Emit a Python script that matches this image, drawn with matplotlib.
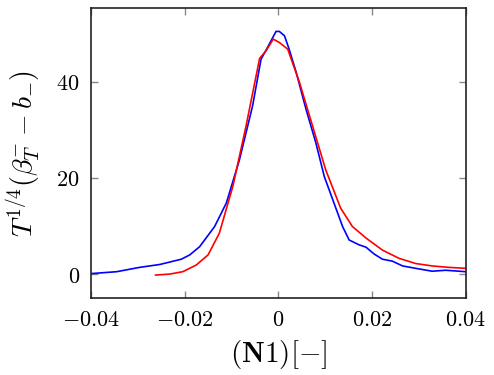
import numpy as np
import matplotlib
matplotlib.use("Agg")
import matplotlib.pyplot as plt

plt.rcParams['mathtext.fontset'] = 'cm'
plt.rcParams['font.family'] = 'DejaVu Serif'

# blue curve
x_blue = [-0.04, -0.0345, -0.0296, -0.0253, -0.0207, -0.0189, -0.0168, -0.0136,
          -0.0111, -0.0083, -0.0055, -0.0037, -0.0023, -0.0005, 0.0002, 0.0013,
          0.0023, 0.0038, 0.0059, 0.008, 0.0098, 0.0116, 0.0137, 0.0151, 0.0172,
          0.0187, 0.0204, 0.0222, 0.0243, 0.0265, 0.0293, 0.0328, 0.0357, 0.04]
y_blue = [0.1, 0.5, 1.4, 2.0, 3.1, 4.0, 5.7, 9.9,
          14.8, 23.8, 35.0, 44.7, 47.2, 50.5, 50.5, 49.6,
          46.8, 42.0, 34.3, 27.3, 20.3, 15.5, 9.9, 7.1, 6.1,
          5.6, 4.2, 3.1, 2.7, 1.7, 1.2, 0.6, 0.8, 0.5]

# red curve
x_red = [-0.0262, -0.0232, -0.0204, -0.0175, -0.015, -0.0126, -0.0097, -0.0069,
         -0.004, -0.0026, -0.0011, 0.0002, 0.002, 0.0045, 0.0073, 0.0101, 0.0133,
         0.0158, 0.0187, 0.0222, 0.0257, 0.0293, 0.0328, 0.0364, 0.04]
y_red = [-0.2, 0.0, 0.5, 1.9, 4.0, 8.5, 18.3, 30.8,
         44.9, 46.5, 48.9, 48.2, 46.8, 39.9, 30.8, 21.7, 13.7,
         9.9, 7.5, 5.0, 3.3, 2.2, 1.7, 1.4, 1.2]

xticks = [-0.04, -0.02, 0, 0.02, 0.04]
xlabels = ['$-0.04$', '$-0.02$', '$0$', '$0.02$', '$0.04$']
yticks = [0, 20, 40]
ylabels = ['$0$', '$20$', '$40$']

fig = plt.figure(figsize=(4.94, 3.75), dpi=100)
ax = fig.add_axes([0.184, 0.205, 0.759, 0.774])

ax.plot(x_blue, y_blue, color='blue', lw=1.2)
ax.plot(x_red, y_red, color='red', lw=1.2)

ax.set_xlim(-0.04, 0.04)
ax.set_ylim(-5, 55.4)
ax.set_xticks(xticks)
ax.set_xticklabels(xlabels, fontsize=16)
ax.set_yticks(yticks)
ax.set_yticklabels(ylabels, fontsize=16)
ax.tick_params(direction='in', length=5, width=1, color='#888888',
               top=True, right=True, pad=8)
for s in ax.spines.values():
    s.set_linewidth(1.2)
    s.set_color('#222222')

ax.set_xlabel(r'$(\mathbf{N1})[-]$', fontsize=21, labelpad=5)
ax.set_ylabel(r'$T^{1/4}(\beta_T^{-}-b_{-})$', fontsize=20, labelpad=10)

fig.savefig('out.png', dpi=100)
